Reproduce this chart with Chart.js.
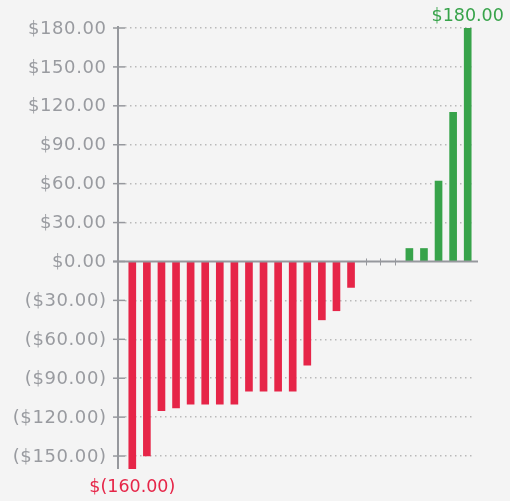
<!DOCTYPE html>
<html>
<head>
<meta charset="utf-8">
<script src="https://cdn.jsdelivr.net/npm/chart.js@4/dist/chart.umd.min.js"></script>
<style>
  html, body { margin: 0; background: #f4f4f4; }
  #wrap { width: 510px; height: 501px; }
</style>
</head>
<body>
<div id="wrap"><canvas id="chart"></canvas></div>
<script>
const categories = [
  "P1", "P2", "P3", "P4", "P5", "P6", "P7", "P8", "P9", "P10", "P11", "P12",
  "P13", "P14", "P15", "P16", "P17", "P18", "P19", "P20", "P21", "P22", "P23", "P24",
];
const values = [
  -160, -150, -115, -113, -110, -110, -110, -110, -100, -100, -100, -100,
  -80, -45, -38, -20, 0, 0, 0, 10, 10, 62, 115, 180,
];
const yTicks = [180, 150, 120, 90, 60, 30, 0, -30, -60, -90, -120, -150];

const RED = "#e62548";
const GREEN = "#37a34a";
const AXIS = "#96989d";
const FONT = '"DejaVu Sans", sans-serif';

const money = (v) => "$" + Math.abs(v).toFixed(2);
const tickLabel = (v) => (v < 0 ? `(${money(v)})` : money(v));
const barLabel = (v) => (v < 0 ? `$(${Math.abs(v).toFixed(2)})` : money(v));

// Axis line, tick marks and slightly spaced tick labels, drawn off the y scale.
const Y_AXIS = {
  id: "yAxisDecor",
  beforeDatasetsDraw(chart) {
    const { ctx, scales: { y }, chartArea } = chart;
    const ax = chartArea.left - 7;
    ctx.save();
    ctx.strokeStyle = AXIS;
    ctx.lineWidth = 2;
    ctx.beginPath();
    ctx.moveTo(ax, y.getPixelForValue(y.max) - 2);
    ctx.lineTo(ax, y.getPixelForValue(y.min));
    ctx.stroke();
    ctx.lineWidth = 1.5;
    ctx.font = `18px ${FONT}`;
    ctx.letterSpacing = "0.6px";
    ctx.fillStyle = "#999ba0";
    ctx.textAlign = "right";
    ctx.textBaseline = "middle";
    yTicks.forEach((v) => {
      const py = y.getPixelForValue(v);
      ctx.beginPath();
      ctx.moveTo(ax - 5, py);
      ctx.lineTo(chartArea.left, py);
      ctx.stroke();
      ctx.fillText(tickLabel(v), ax - 11.4, py + 1);
    });
    ctx.restore();
  },
  afterDatasetsDraw(chart) {
    const { ctx, scales: { x, y }, chartArea } = chart;
    const zero = y.getPixelForValue(0);
    ctx.save();
    ctx.strokeStyle = AXIS;
    ctx.lineWidth = 2;
    ctx.beginPath();
    ctx.moveTo(chartArea.left - 12, zero);
    ctx.lineTo(chartArea.right + 3, zero);
    ctx.stroke();

    // zero-value entries get a small marker on the baseline
    ctx.lineWidth = 1;
    values.forEach((v, i) => {
      if (v !== 0) return;
      const px = Math.round(x.getPixelForValue(i)) + 0.5;
      ctx.beginPath();
      ctx.moveTo(px, zero - 3);
      ctx.lineTo(px, zero + 4);
      ctx.stroke();
    });

    // label the extremes
    const hi = Math.max(...values);
    const lo = Math.min(...values);
    ctx.font = `17.5px ${FONT}`;
    ctx.letterSpacing = "0px";
    ctx.textAlign = "center";
    const iHi = values.indexOf(hi);
    const iLo = values.indexOf(lo);
    ctx.fillStyle = GREEN;
    ctx.textBaseline = "bottom";
    ctx.fillText(barLabel(hi), x.getPixelForValue(iHi), y.getPixelForValue(hi) - 3);
    ctx.fillStyle = RED;
    ctx.textBaseline = "top";
    ctx.fillText(barLabel(lo), x.getPixelForValue(iLo), y.getPixelForValue(lo) + 10);
    ctx.restore();
  },
};

new Chart(document.getElementById("chart"), {
  type: "bar",
  data: {
    labels: categories,
    datasets: [
      {
        data: values,
        backgroundColor: values.map((v) => (v < 0 ? RED : GREEN)),
        borderWidth: 0,
        barThickness: 7,
      },
    ],
  },
  options: {
    responsive: true,
    maintainAspectRatio: false,
    animation: false,
    layout: { padding: { top: 28, right: 35, bottom: 32, left: 0 } },
    plugins: { legend: { display: false }, tooltip: { enabled: false } },
    scales: {
      x: { display: false },
      y: {
        min: -160,
        max: 180,
        afterBuildTicks: (scale) => {
          scale.ticks = yTicks.map((value) => ({ value }));
        },
        afterFit: (scale) => {
          scale.width = 125;
        },
        ticks: { display: false },
        border: { display: false, dash: [1.5, 3.5] },
        grid: {
          drawTicks: false,
          color: (c) => (c.tick && c.tick.value === 0 ? "rgba(0,0,0,0)" : "#b9b9b9"),
          lineWidth: 1.5,
        },
      },
    },
  },
  plugins: [Y_AXIS],
});
</script>
</body>
</html>
